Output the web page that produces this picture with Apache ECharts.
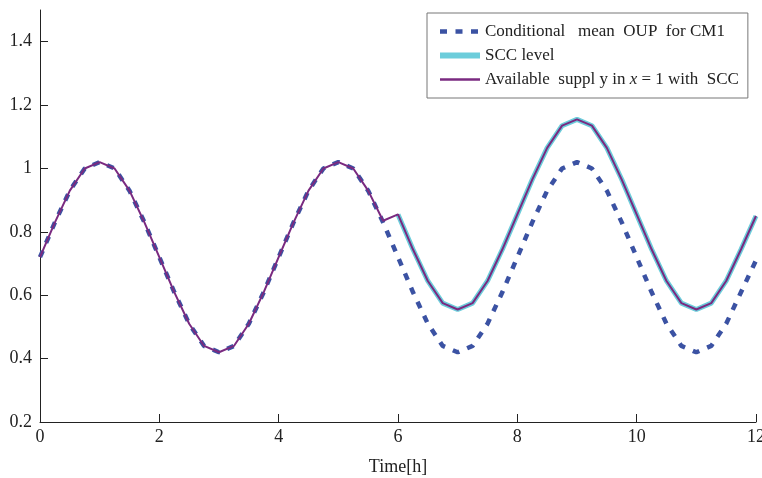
<!DOCTYPE html>
<html>
<head>
<meta charset="utf-8">
<script src="https://cdn.jsdelivr.net/npm/echarts@6/dist/echarts.min.js"></script>
<style>html,body{margin:0;padding:0;background:#fff}#c{width:762px;height:478px}</style>
</head>
<body>
<div id="c"></div>
<script>
var times = [0,0.25,0.5,0.75,1,1.25,1.5,1.75,2,2.25,2.5,2.75,3,3.25,3.5,3.75,
  4,4.25,4.5,4.75,5,5.25,5.5,5.75,6,6.25,6.5,6.75,7,7.25,7.5,7.75,
  8,8.25,8.5,8.75,9,9.25,9.5,9.75,10,10.25,10.5,10.75,11,11.25,11.5,11.75,12];
var meanOUP = [0.72,0.83,0.93,1.00,1.02,1.00,0.93,0.83,0.72,0.61,0.51,0.44,0.42,0.44,0.51,0.61,
  0.72,0.83,0.93,1.00,1.02,1.00,0.93,0.83,0.72,0.61,0.51,0.44,0.42,0.44,0.51,0.61,
  0.72,0.83,0.93,1.00,1.02,1.00,0.93,0.83,0.72,0.61,0.51,0.44,0.42,0.44,0.51,0.61,0.71];
var sccLevel = [null,null,null,null,null,null,null,null,null,null,null,null,null,null,null,null,
  null,null,null,null,null,null,null,null,0.855,0.745,0.645,0.575,0.555,0.575,0.645,0.745,
  0.855,0.965,1.065,1.135,1.155,1.135,1.065,0.965,0.855,0.745,0.645,0.575,0.555,0.575,0.645,0.745,0.85];
var supply = [0.72,0.83,0.93,1.00,1.02,1.00,0.93,0.83,0.72,0.61,0.51,0.44,0.42,0.44,0.51,0.61,
  0.72,0.83,0.93,1.00,1.02,1.00,0.93,0.835,0.855,0.745,0.645,0.575,0.555,0.575,0.645,0.745,
  0.855,0.965,1.065,1.135,1.155,1.135,1.065,0.965,0.855,0.745,0.645,0.575,0.555,0.575,0.645,0.745,0.85];
var xTicks = [0,2,4,6,8,10,12];
var yTicks = [0.2,0.4,0.6,0.8,1,1.2,1.4];
var names = ['Conditional   mean  OUP  for CM1', 'SCC level', 'Available  suppl y in x = 1 with  SCC'];

function pairs(vals){
  var out = [];
  for (var i = 0; i < times.length; i++) if (vals[i] != null) out.push([times[i], vals[i]]);
  return out;
}
var font = 'Liberation Serif, Times New Roman, serif';
var blue = '#3b52a3', cyan = '#6ccddb', purple = '#7a2a80';
var chart = echarts.init(document.getElementById('c'), null, {renderer: 'canvas'});
chart.setOption({
  animation: false,
  backgroundColor: '#fff',
  grid: {left: 40, right: 6, top: 10, bottom: 56, outerBoundsMode: 'none'},
  legend: {
    orient: 'vertical', left: 427, top: 13,
    padding: [10, 9, 10, 10], itemGap: 7, itemWidth: 40, itemHeight: 14,
    borderColor: '#777', borderWidth: 1, backgroundColor: '#fff',
    itemStyle: {opacity: 0},
    textStyle: {fontFamily: font, fontSize: 17, color: '#222',
      rich: {i: {fontStyle: 'italic', fontFamily: font, fontSize: 17, color: '#222'}}},
    formatter: function(n){ return n === names[2] ? 'Available  suppl y in {i|x} = 1 with  SCC' : n; },
    data: [
      {name: names[0], lineStyle: {color: blue, width: 4.5, type: [7, 8.5], cap: 'butt'}},
      {name: names[1], lineStyle: {color: cyan, width: 6}},
      {name: names[2], lineStyle: {color: purple, width: 2.5}}
    ]
  },
  xAxis: {
    type: 'value', min: 0, max: 12, interval: 2,
    name: 'Time[h]', nameLocation: 'middle', nameGap: 36,
    nameTextStyle: {fontFamily: font, fontSize: 18, color: '#222'},
    axisLine: {show: true, lineStyle: {color: '#222', width: 1}},
    axisTick: {show: true, inside: true, length: 8, lineStyle: {color: '#222'}, customValues: xTicks},
    axisLabel: {fontFamily: font, fontSize: 18, color: '#222', margin: 6, customValues: xTicks},
    splitLine: {show: false}
  },
  yAxis: {
    type: 'value', min: 0.2, max: 1.5, interval: 0.2,
    axisLine: {show: true, lineStyle: {color: '#222', width: 1}},
    axisTick: {show: true, inside: true, length: 8, lineStyle: {color: '#222'}, customValues: yTicks},
    axisLabel: {fontFamily: font, fontSize: 18, color: '#222', margin: 8, customValues: yTicks,
      formatter: function(v){ return String(Math.round(v*10)/10); }},
    splitLine: {show: false}
  },
  series: [
    {name: names[0], type: 'line', data: pairs(meanOUP), symbol: 'none', showSymbol: false,
     lineStyle: {color: blue, width: 4.5, type: [7, 8.5], cap: 'butt'}, itemStyle: {color: blue}, z: 2},
    {name: names[1], type: 'line', data: pairs(sccLevel), symbol: 'none', showSymbol: false,
     lineStyle: {color: cyan, width: 5}, itemStyle: {color: cyan}, z: 3},
    {name: names[2], type: 'line', data: pairs(supply), symbol: 'none', showSymbol: false,
     lineStyle: {color: purple, width: 2}, itemStyle: {color: purple}, z: 4}
  ]
});
</script>
</body>
</html>
